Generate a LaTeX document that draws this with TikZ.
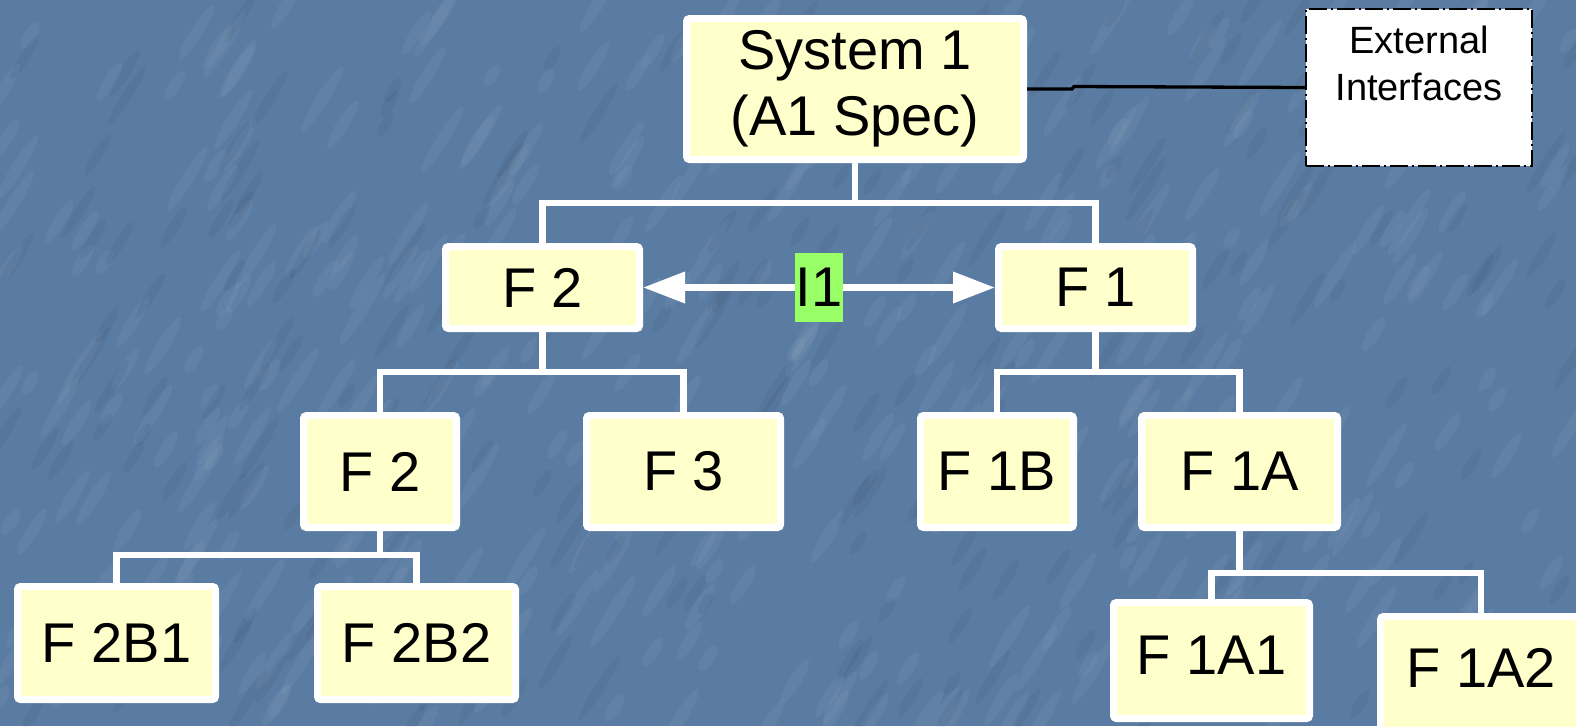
\documentclass[tikz,border=0pt]{standalone}
\usepackage{fontspec}
\setmainfont{Liberation Sans}
\usetikzlibrary{arrows.meta}
\definecolor{denim}{RGB}{90,124,163}
\definecolor{boxfill}{RGB}{255,255,204}
\definecolor{tagfill}{RGB}{153,255,102}

\begin{document}
\begin{tikzpicture}[x=1pt,y=-1pt,
  blockbox/.style={draw=white, line width=7pt, fill=boxfill, rounded corners=3pt,
    inner sep=0pt, align=center, font=\fontsize{56}{66}\selectfont},
  extbox/.style={draw=black, line width=2pt, fill=white,
    dash pattern=on 18pt off 4pt on 2pt off 4pt, inner sep=0pt},
  extlabel/.style={align=center, inner sep=0pt, font=\fontsize{38}{47}\selectfont},
  tree/.style={draw=white, line width=6.8pt},
  tag/.style={fill=tagfill, inner sep=0pt, minimum width=48pt, minimum height=69pt,
    font=\fontsize{56}{66}\selectfont},
  twoway/.style={>={Triangle[length=42pt,width=30pt]}, <->},
  grain/.style={opacity=0.045}
]
\useasboundingbox (0,0) rectangle (1576,726);
\clip (0,0) rectangle (1576,726);

% mottled blue backdrop
\fill[denim] (0,0) rectangle (1576,726);
\pgfmathsetseed{7}
\foreach \i in {1,...,380}{
  \pgfmathsetmacro\tx{rnd*1576}
  \pgfmathsetmacro\ty{rnd*726}
  \pgfmathsetmacro\tl{12+rnd*30}
  \fill[white,grain,rotate around={58:(\tx,\ty)}] (\tx,\ty) ellipse [x radius=\tl, y radius=6];
}
\foreach \i in {1,...,220}{
  \pgfmathsetmacro\tx{rnd*1576}
  \pgfmathsetmacro\ty{rnd*726}
  \pgfmathsetmacro\tl{12+rnd*26}
  \fill[black,grain,rotate around={58:(\tx,\ty)}] (\tx,\ty) ellipse [x radius=\tl, y radius=5];
}

% blocks
\node[blockbox, minimum width=337pt, minimum height=141pt] (sys) at (855,89) {System 1\\(A1 Spec)};
\node[blockbox, minimum width=194pt, minimum height=82pt] (f2) at (542.5,287.5) {F 2};
\node[blockbox, minimum width=194pt, minimum height=82pt] (f1) at (1095.5,287.5) {F 1};
\node[blockbox, minimum width=153pt, minimum height=112pt] (f2b) at (380,471.5) {F 2};
\node[blockbox, minimum width=194pt, minimum height=112pt] (f3) at (683.5,471.5) {F 3};
\node[blockbox, minimum width=153pt, minimum height=112pt] (f1b) at (997,471.5) {F 1B};
\node[blockbox, minimum width=196pt, minimum height=112pt] (f1a) at (1239.5,471.5) {F 1A};
\node[blockbox, minimum width=198pt, minimum height=113pt] (f2b1) at (116.5,643) {F 2B1};
\node[blockbox, minimum width=198pt, minimum height=113pt] (f2b2) at (416.5,643) {F 2B2};
\node[blockbox, minimum width=196pt, minimum height=116pt, text depth=10pt] (f1a1) at (1211.5,660.5) {F 1A1};
\node[blockbox, minimum width=201pt, minimum height=116pt, text depth=13pt] (f1a2) at (1481,674.5) {F 1A2};

% external interfaces
\node[extbox, minimum width=226pt, minimum height=157pt] (ext) at (1419,87.5) {};
\node[extlabel] (extt) at (1419,63) {External\\Interfaces};

% tree branches
\coordinate (b1) at (855,203);
\coordinate (b2) at (542.5,372);
\coordinate (b3) at (1095.5,372);
\coordinate (b4) at (380,555);
\coordinate (b5) at (1239.5,573);
\draw[tree] (sys.south) -- (b1);
\draw[tree] (f2.north) |- (b1) -| (f1.north);
\draw[tree] (f2.south) -- (b2);
\draw[tree] (f2b.north) |- (b2) -| (f3.north);
\draw[tree] (f1.south) -- (b3);
\draw[tree] (f1b.north) |- (b3) -| (f1a.north);
\draw[tree] (f2b.south) -- (b4);
\draw[tree] (f2b1.north) |- (b4) -| (f2b2.north);
\draw[tree] (f1a.south) -- (b5);
\draw[tree] (f1a1.north) |- (b5) -| (f1a2.north);

% interface I1
\draw[tree, twoway] (f2.east) -- (f1.west)
  node[tag, midway] (i1) {I1};

% link to the external interfaces
\draw[line width=3.3pt] (sys.east) -- ++(45,0) -- ++(2,-2.5) -- (ext.west);
\end{tikzpicture}
\end{document}
